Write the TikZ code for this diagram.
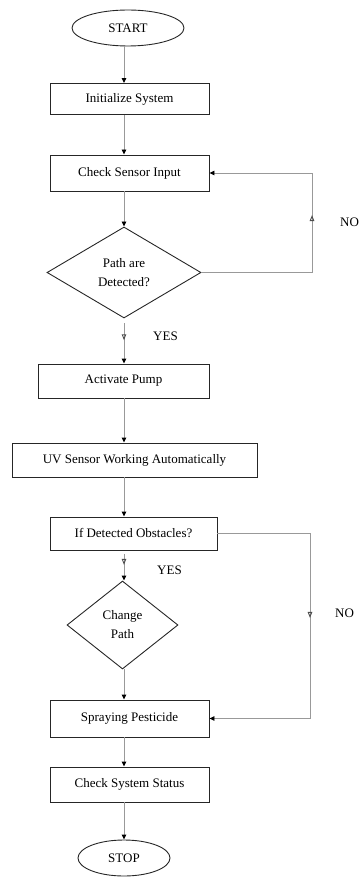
\documentclass[tikz,border=0pt]{standalone}
\usepackage{fontspec}
\setmainfont{Liberation Serif}
\usetikzlibrary{shapes.geometric,arrows.meta,decorations.markings}
\tikzset{
  base/.style={draw=black!85, line width=0.9pt, text=black, font=\fontsize{13}{19}\selectfont, inner sep=0pt, align=center},
  term/.style={base, ellipse},
  proc/.style={base, rectangle},
  dec/.style={base, diamond},
  conn/.style={draw=black!40, line width=0.9pt, -{Triangle[width=4.5pt,length=5pt,color=black]}},
  midarrow/.style={postaction={decorate, decoration={markings, mark=at position #1 with {\arrow{Triangle[open,width=4.5pt,length=6pt,color=black!70]}}}}},
  lbl/.style={font=\fontsize{13}{15}\selectfont, text=black, inner sep=0pt}
}
\begin{document}
\begin{tikzpicture}[x=1pt,y=-1pt]
\useasboundingbox (0,0) rectangle (360,877);
\node[term, minimum width=112pt, minimum height=36pt] (start) at (128,28) {START};
\node[proc, minimum width=159pt, minimum height=31pt] (init) at (129.5,99) {Initialize System};
\node[proc, minimum width=159pt, minimum height=36pt] (csi) at (129.5,173) {Check Sensor Input};
\node[dec, minimum width=154pt, minimum height=91pt] (pad) at (124,272.5) {Path are\\Detected?};
\node[proc, minimum width=171pt, minimum height=34pt] (pump) at (123.5,381) {Activate Pump};
\node[proc, minimum width=245pt, minimum height=34pt] (uv) at (134.5,460) {UV Sensor Working Automatically};
\node[proc, minimum width=167pt, minimum height=33pt] (obs) at (133.5,533.5) {If Detected Obstacles?};
\node[dec, minimum width=111pt, minimum height=88pt] (chg) at (122.5,625) {Change\\Path};
\node[proc, minimum width=159pt, minimum height=37pt] (spray) at (129.5,718.5) {Spraying Pesticide};
\node[proc, minimum width=159pt, minimum height=35pt] (css) at (129.5,784.5) {Check System Status};
\node[term, minimum width=92pt, minimum height=36pt] (stop) at (124,858) {STOP};

\coordinate (spine) at (124,0);
\coordinate (loopA) at (312,0);
\coordinate (loopB) at (310,0);

\draw[conn] (start.south -| spine) -- (init.north -| spine);
\draw[conn] (init.south -| spine) -- (csi.north -| spine);
\draw[conn] (csi.south -| spine) -- (pad.north);
\draw[conn, midarrow=0.42] ([yshift=-5pt]pad.south) -- (pump.north -| spine);
\draw[conn] (pump.south -| spine) -- (uv.north -| spine);
\draw[conn] (uv.south -| spine) -- (obs.north -| spine);
\draw[conn, midarrow=0.4] ([yshift=-4pt]obs.south -| spine) -- (chg.north -| spine);
\draw[conn] (chg.south -| spine) -- (spray.north -| spine);
\draw[conn] (spray.south -| spine) -- (css.north -| spine);
\draw[conn] (css.south -| spine) -- (stop.north);

\draw[conn, midarrow=168pt] (pad.east) -- (pad.east -| loopA) -- (csi.east -| loopA) -- (csi.east);
\draw[conn, midarrow=177pt] (obs.east) -- (obs.east -| loopB) -- (spray.east -| loopB) -- (spray.east);

\node[lbl, anchor=west] (no1) at (340,222) {NO};
\node[lbl, anchor=west] (yes1) at (153,336) {YES};
\node[lbl, anchor=west] (yes2) at (157,570) {YES};
\node[lbl, anchor=west] (no2) at (335,613) {NO};
\end{tikzpicture}
\end{document}
